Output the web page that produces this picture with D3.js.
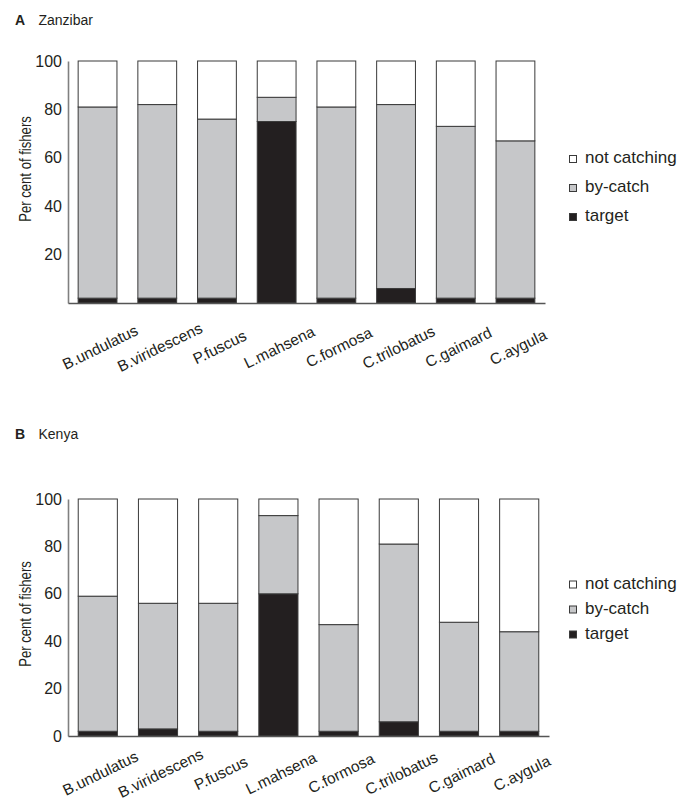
<!DOCTYPE html>
<html>
<head>
<meta charset="utf-8">
<script src="https://cdn.jsdelivr.net/npm/d3@7"></script>
<style>
  html, body { margin: 0; padding: 0; background: #fff; }
  svg { display: block; font-family: "Liberation Sans", Arial, Helvetica, sans-serif; }
</style>
</head>
<body>
<svg id="chart" width="692" height="799"></svg>
<script>
// Species on the x axis (same order in both panels)
const species = ["B.undulatus", "B.viridescens", "P.fuscus", "L.mahsena",
                 "C.formosa", "C.trilobatus", "C.gaimard", "C.aygula"];

// Categories stacked from the bottom up, and their order in the legend
const categories = ["target", "by-catch", "not catching"];
const legendOrder = ["not catching", "by-catch", "target"];

// Zanzibar: percentage of fishers per category
const zanzibarTarget      = [2, 2, 2, 75, 2, 6, 2, 2];
const zanzibarByCatch     = [79, 80, 74, 10, 79, 76, 71, 65];
const zanzibarNotCatching = [19, 18, 24, 15, 19, 18, 27, 33];

// Kenya: percentage of fishers per category
const kenyaTarget      = [2, 3, 2, 60, 2, 6, 2, 2];
const kenyaByCatch     = [57, 53, 54, 33, 45, 75, 46, 42];
const kenyaNotCatching = [41, 44, 44, 7, 53, 19, 52, 56];

// Y tick labels
const zanzibarTicks = [20, 40, 60, 80, 100];
const kenyaTicks = [0, 20, 40, 60, 80, 100];

const fills = { "target": "#231f20", "by-catch": "#c6c7c9", "not catching": "#ffffff" };

const svg = d3.select("#chart");

function rows(target, byCatch, notCatching) {
  return species.map((s, i) => ({
    species: s,
    "target": target[i],
    "by-catch": byCatch[i],
    "not catching": notCatching[i]
  }));
}

function panel(opts) {
  const g = svg.append("g");

  // Panel heading
  const head = g.append("text")
    .attr("x", 15).attr("y", opts.titleY)
    .attr("font-size", 14).attr("fill", "#231f20");
  head.append("tspan").attr("font-weight", "bold").text(opts.letter);
  head.append("tspan").attr("x", 38.5).text(opts.title);

  const x = d3.scaleBand()
    .domain(species)
    .range([opts.x0, opts.x1])
    .paddingInner(0.35)
    .paddingOuter(0.17);

  const y = d3.scaleLinear()
    .domain([0, 100])
    .range([opts.yBottom, opts.yTop]);

  const stacked = d3.stack().keys(categories)(opts.data);

  // Stacked bars
  g.selectAll("g.layer")
    .data(stacked)
    .join("g")
    .attr("class", "layer")
    .attr("fill", d => fills[d.key])
    .selectAll("rect")
    .data(d => d)
    .join("rect")
    .attr("x", d => x(d.data.species))
    .attr("width", x.bandwidth())
    .attr("y", d => y(d[1]))
    .attr("height", d => y(d[0]) - y(d[1]))
    .attr("stroke", "#3a3a3a")
    .attr("stroke-width", 1);

  // Y axis
  const yAxis = g.append("g")
    .attr("transform", `translate(${opts.x0},0)`)
    .call(d3.axisLeft(y).tickValues(opts.ticks).tickSize(0).tickPadding(6));
  yAxis.select(".domain").attr("stroke", "#808080").attr("stroke-width", 1.6);
  yAxis.selectAll("text")
    .attr("font-size", 16)
    .attr("fill", "#231f20");

  // X axis baseline
  const xAxis = g.append("g")
    .attr("transform", `translate(0,${opts.yBottom})`)
    .call(d3.axisBottom(x).tickSize(0).tickFormat(""));
  xAxis.select(".domain").attr("stroke", "#555").attr("stroke-width", 1.6);

  // Slanted species names under the bars
  g.selectAll("g.xlab")
    .data(species)
    .join("g")
    .attr("class", "xlab")
    .attr("transform", s =>
      `translate(${x(s) + x.bandwidth() / 2 + 5},${opts.yBottom + opts.labelDy}) rotate(-26)`)
    .append("text")
    .attr("text-anchor", "middle")
    .attr("font-size", 15.5)
    .attr("fill", "#231f20")
    .text(s => s);

  // Y axis title
  g.append("text")
    .attr("transform", `translate(31,${opts.yLabelY}) rotate(-90) scale(0.82,1)`)
    .attr("text-anchor", "middle")
    .attr("font-size", 16)
    .attr("fill", "#231f20")
    .text("Per cent of fishers");

  // Legend
  const leg = g.append("g");
  legendOrder.forEach((k, i) => {
    const cy = opts.legendY + i * opts.legendStep;
    leg.append("rect")
      .attr("x", 569.5).attr("y", cy - 3.5)
      .attr("width", 7).attr("height", 7)
      .attr("fill", fills[k])
      .attr("stroke", "#3a3a3a").attr("stroke-width", 1);
    leg.append("text")
      .attr("x", 585).attr("y", cy + 4)
      .attr("font-size", 17)
      .attr("fill", "#231f20")
      .text(k);
  });
}

panel({
  letter: "A", title: "Zanzibar", titleY: 25,
  data: rows(zanzibarTarget, zanzibarByCatch, zanzibarNotCatching),
  ticks: zanzibarTicks,
  x0: 68, x1: 545, yTop: 61, yBottom: 303,
  labelDy: 49, yLabelY: 169,
  legendY: 159, legendStep: 29
});

panel({
  letter: "B", title: "Kenya", titleY: 439,
  data: rows(kenyaTarget, kenyaByCatch, kenyaNotCatching),
  ticks: kenyaTicks,
  x0: 68, x1: 549, yTop: 499, yBottom: 736,
  labelDy: 42, yLabelY: 614,
  legendY: 584.5, legendStep: 25
});
</script>
</body>
</html>
